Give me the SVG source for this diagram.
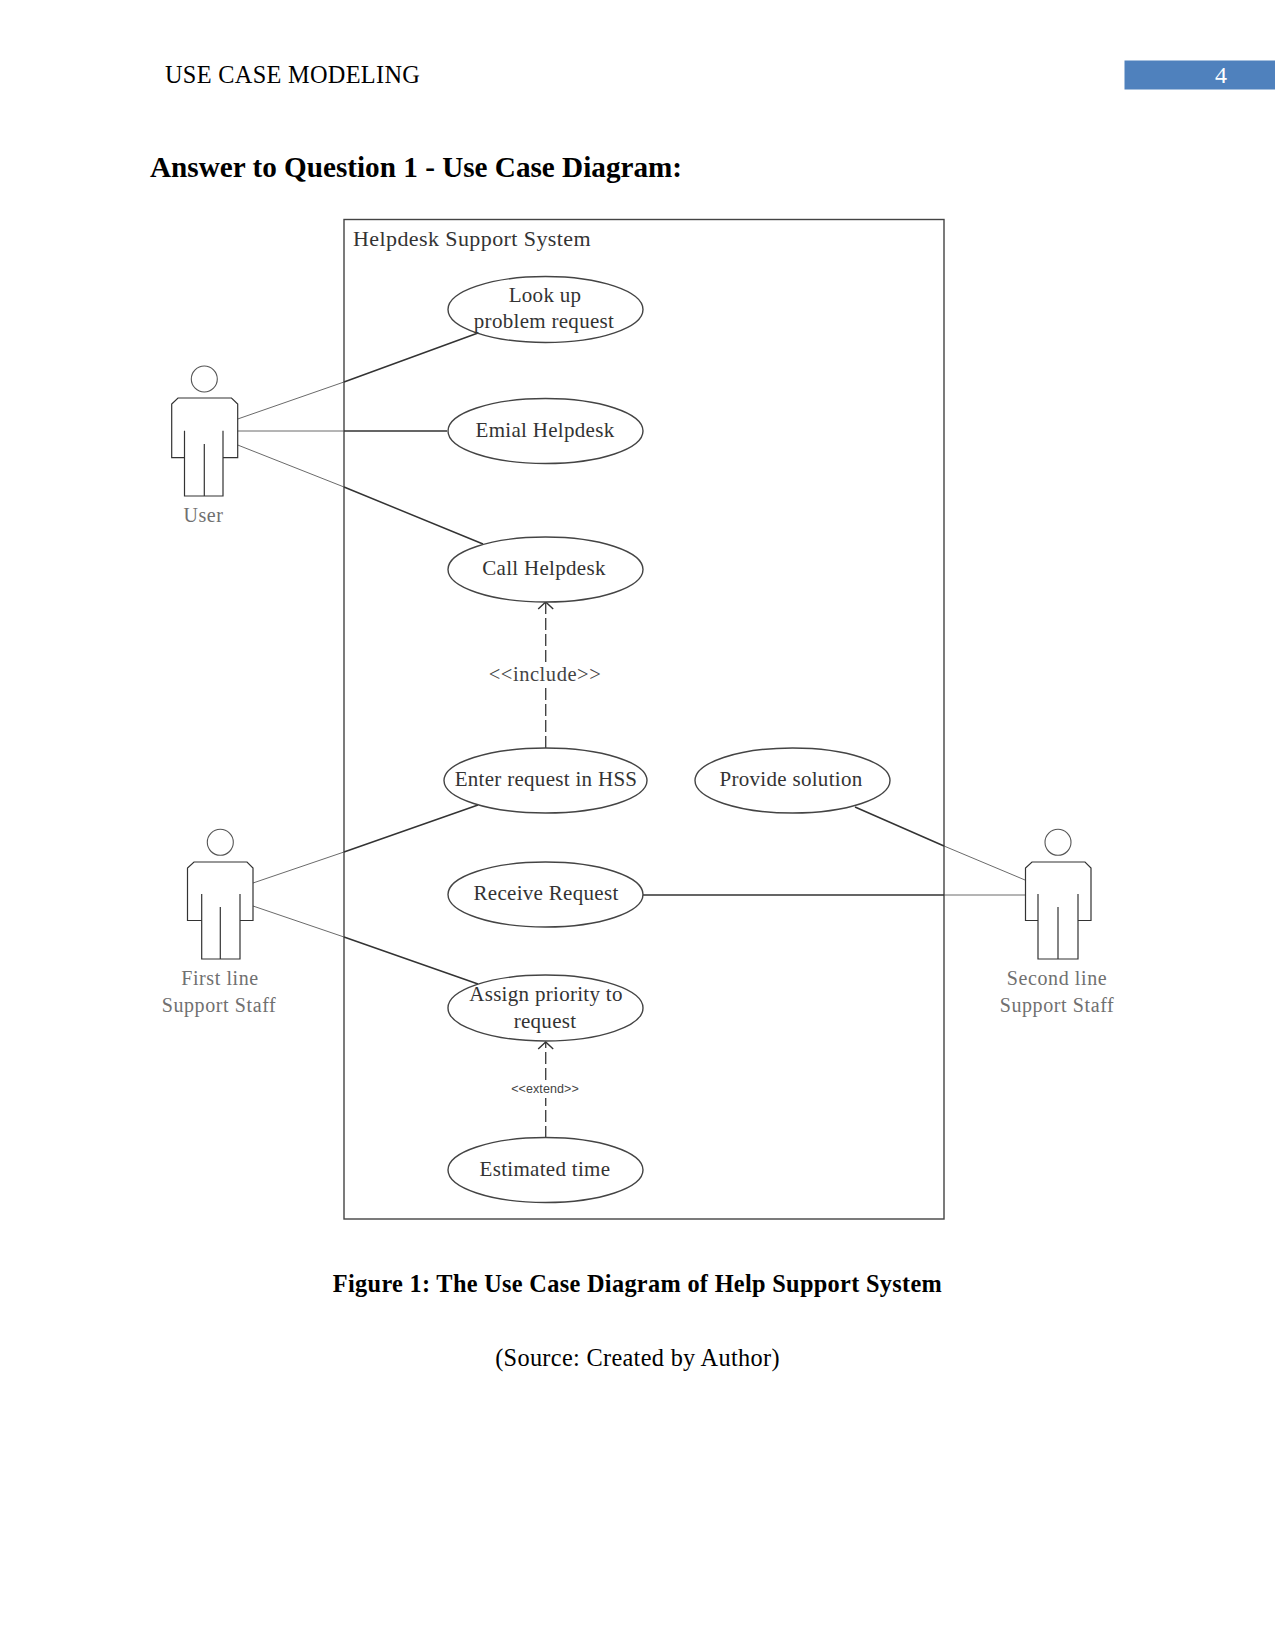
<svg xmlns="http://www.w3.org/2000/svg" width="1275" height="1651" viewBox="0 0 1275 1651">
<defs>
<style>
text{font-family:"Liberation Serif","Times New Roman",serif;fill:#000}
.u{font-size:21px;fill:#333;text-anchor:middle;letter-spacing:.3px}
.a{font-size:20px;fill:#707070;text-anchor:middle;letter-spacing:.6px}
.s{fill:none;stroke:#333;stroke-width:1.2}
.h{fill:none;stroke:#555;stroke-width:1.1}
.e{fill:#fff;stroke:#444;stroke-width:1.4}
.t{fill:none;stroke:#444;stroke-width:.8}
.k{fill:none;stroke:#333;stroke-width:1.5}
.d{fill:none;stroke:#444;stroke-width:1.4;stroke-dasharray:12 4}
.c{font-size:24.300px;letter-spacing:.32px}
</style>
<marker id="open" markerWidth="12" markerHeight="18" refX="9" refY="9" orient="auto" markerUnits="userSpaceOnUse"><path d="M2 1.500L9 9L2 16.500" fill="none" stroke="#333" stroke-width="1.4"/></marker>
</defs>
<rect width="1275" height="1651" fill="#fff"/>
<g id="header">
<text class="c" x="165" y="83">USE CASE MODELING</text>
<rect x="1124.500" y="60.500" width="150.500" height="29" fill="#4f81bd"/>
<text x="1221" y="83" font-size="24" text-anchor="middle" style="fill:#fff">4</text>
<text x="150" y="177" font-size="29.200" font-weight="700">Answer to Question 1 - Use Case Diagram:</text>
</g>
<g id="system"><rect x="344" y="219.500" width="600" height="999.500" fill="none" stroke="#444" stroke-width="1.4"/>
<text x="353" y="246" font-size="22" letter-spacing=".41" style="fill:#333">Helpdesk Support System</text></g>
<g id="connectors">
<path class="t" d="M237.700 419L344 382M237.700 431H344M237.700 445L344 487M253 883L344 852M253 906L344 937M944 846L1025 880M944 895H1025"/>
<path class="k" d="M344 382L478 333M344 431H447M344 487L483 544M344 852L478 805M344 937L478 984M855 807L944 846M642 895H944"/>
<path class="d" d="M545.700 748V688M545.700 662V602" marker-end="url(#open)"/>
<path class="d" d="M545.700 1138V1098M545.700 1080V1042" marker-end="url(#open)"/>
</g>
<g id="uc-lookup"><ellipse class="e" cx="545.500" cy="309.500" rx="97.500" ry="33" fill-opacity="0"/><text class="u" x="545" y="302">Look up</text><text class="u" x="544" y="328">problem request</text></g>
<g id="uc-email"><ellipse class="e" cx="545.500" cy="431" rx="97.500" ry="32.500"/><text class="u" x="545" y="437">Emial Helpdesk</text></g>
<g id="uc-call"><ellipse class="e" cx="545.500" cy="569.500" rx="97.500" ry="32.500"/><text class="u" x="544" y="575">Call Helpdesk</text></g>
<g id="uc-enter"><ellipse class="e" cx="545.500" cy="780.500" rx="101.500" ry="32.500"/><text class="u" x="546" y="786">Enter request in HSS</text></g>
<g id="uc-provide"><ellipse class="e" cx="792.500" cy="780.500" rx="97.500" ry="32.500"/><text class="u" x="791" y="786">Provide solution</text></g>
<g id="uc-receive"><ellipse class="e" cx="545.500" cy="894.500" rx="97.500" ry="32.500"/><text class="u" x="546" y="900">Receive Request</text></g>
<g id="uc-assign"><ellipse class="e" cx="545.500" cy="1008" rx="97.500" ry="33" fill-opacity="0"/><text class="u" x="546" y="1001">Assign priority to</text><text class="u" x="545" y="1028">request</text></g>
<g id="uc-estimated"><ellipse class="e" cx="545.500" cy="1170" rx="97.500" ry="32.500"/><text class="u" x="545" y="1176">Estimated time</text></g>
<g id="label-include"><text x="545" y="681" font-size="20.500" letter-spacing=".55" text-anchor="middle" style="fill:#444">&lt;&lt;include&gt;&gt;</text></g>
<g id="label-extend"><text x="545" y="1093" font-size="12.500" letter-spacing=".1" text-anchor="middle" style="font-family:'Liberation Sans',Arial,sans-serif;fill:#444">&lt;&lt;extend&gt;&gt;</text></g>
<g id="actor-user"><circle class="h" cx="204.300" cy="379" r="13"/><path class="s" d="M184.500 430.700V457.700H171.700V404L178 398H231.500L237.700 404V457.700H223V430.700M184.500 457.700V496H223V457.700M204.300 444V496"/><text class="a" x="203.500" y="522">User</text></g>
<g id="actor-first"><circle class="h" cx="220.300" cy="842.300" r="13"/><path class="s" d="M201.700 894V920.500H187.500V868L194 862H247L253 868V920.500H240V894M201.700 920.500V959H240V920.500M220.300 907V959"/><text class="a" x="220" y="985">First line</text><text class="a" x="219" y="1012">Support Staff</text></g>
<g id="actor-second"><circle class="h" cx="1058" cy="842.300" r="13"/><path class="s" d="M1038 894V920.500H1025.500V868L1032 862H1085L1091 868V920.500H1078V894M1038 920.500V959H1078V920.500M1058 907V959"/><text class="a" x="1057" y="985">Second line</text><text class="a" x="1057" y="1012">Support Staff</text></g>
<g id="captions">
<text class="c" x="637.500" y="1292" font-weight="700" text-anchor="middle">Figure 1: The Use Case Diagram of Help Support System</text>
<text class="c" x="637.500" y="1366" text-anchor="middle">(Source: Created by Author)</text>
</g>
</svg>
